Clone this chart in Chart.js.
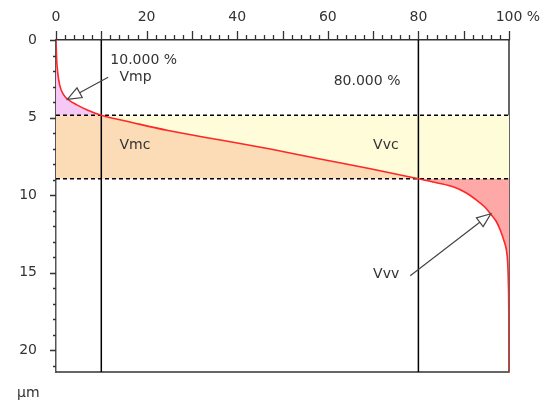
<!DOCTYPE html>
<html>
<head>
<meta charset="utf-8">
<script src="https://cdn.jsdelivr.net/npm/chart.js@4.4.0/dist/chart.umd.min.js"></script>
<style>
    html, body { margin: 0; padding: 0; background: #fff; }
    #wrap { width: 551px; height: 400px; }
</style>
</head>
<body>
<div id="wrap"><canvas id="afChart" width="551" height="400"></canvas></div>
<script>
// Abbott-Firestone curve: material ratio (%) against height (µm)
const ratioPct = [0, 0.13, 0.35, 0.8, 1.7, 2.8, 4.6, 6.9, 10, 17, 24.5, 36, 47.3, 58, 69.4, 80, 84, 87.8, 90.5, 92.9, 94.6, 95.9, 97.2, 98.1, 98.9, 99.4, 99.7, 99.85, 99.95, 100];
const heightUm = [0, 1.16, 2.02, 2.89, 3.54, 3.86, 4.18, 4.51, 4.85, 5.33, 5.82, 6.43, 7.03, 7.65, 8.3, 8.94, 9.2, 9.48, 9.85, 10.34, 10.75, 11.2, 11.7, 12.28, 12.95, 13.5, 14.3, 15.5, 17.5, 21.4];

// Mr1 / Mr2 and the matching heights
const ratioLevels = [10, 80];
const heightLevels = [4.85, 8.94];

const xTickLabels = ['0', '20', '40', '60', '80', '100'];
const yTickLabels = ['0', '5', '10', '15', '20'];
const yMax = 21.4;

const FONT = '14px "DejaVu Sans", Verdana, sans-serif';
const TEXT = '#333';

// helpers to cut the curve into pieces for the fills
const i1 = ratioPct.indexOf(ratioLevels[0]);
const i2 = ratioPct.indexOf(ratioLevels[1]);
const pts = (a, b) => ratioPct.slice(a, b + 1).map((x, k) => ({ x: x, y: heightUm[a + k] }));

function fillSet(data, value, color) {
    return {
        data: data, fill: { value: value }, backgroundColor: color,
        borderWidth: 0, pointRadius: 0, cubicInterpolationMode: 'monotone', order: 5
    };
}
function lineSet(data, dash) {
    return {
        data: data, fill: false, borderColor: '#000', borderWidth: 1.5,
        borderDash: dash || [], pointRadius: 0, order: 1
    };
}

const datasets = [
    {
        data: pts(0, ratioPct.length - 1), fill: false, borderColor: '#ff2626', borderWidth: 1.6,
        pointRadius: 0, cubicInterpolationMode: 'monotone', order: 0
    },
    lineSet([{ x: ratioLevels[0], y: 0 }, { x: ratioLevels[0], y: yMax }]),
    lineSet([{ x: ratioLevels[1], y: 0 }, { x: ratioLevels[1], y: yMax }]),
    lineSet([{ x: 0, y: heightLevels[0] }, { x: 100, y: heightLevels[0] }], [4, 3]),
    lineSet([{ x: 0, y: heightLevels[1] }, { x: 100, y: heightLevels[1] }], [4, 3]),
    // Vmp
    fillSet(pts(0, i1), heightLevels[0], '#f6c8f6'),
    // Vmc
    fillSet(pts(i1, i2), heightLevels[1], '#fbdcb6'),
    fillSet([{ x: 0, y: heightLevels[0] }, { x: ratioLevels[0], y: heightLevels[0] }], heightLevels[1], '#fbdcb6'),
    // Vvc
    fillSet(pts(i1, i2), heightLevels[0], '#fefcd9'),
    fillSet([{ x: ratioLevels[1], y: heightLevels[1] }, { x: 100, y: heightLevels[1] }], heightLevels[0], '#fefcd9'),
    // Vvv
    fillSet(pts(i2, ratioPct.length - 1), heightLevels[1], '#ffa8a8')
];

// text notes and arrows, in data units
const notes = [
    { text: '10.000 %', x: 12.0, y: 1.29 },
    { text: 'Vmp', x: 14.0, y: 2.4 },
    { text: '80.000 %', x: 61.3, y: 2.65 },
    { text: 'Vmc', x: 14.0, y: 6.79 },
    { text: 'Vvc', x: 70.0, y: 6.79 },
    { text: 'Vvv', x: 70.0, y: 15.1 }
];
const arrows = [
    { from: [11.5, 2.4], to: [2.5, 3.83] },
    { from: [78.2, 15.2], to: [96.0, 11.2] }
];

function drawArrow(ctx, x0, y0, x1, y1) {
    const ang = Math.atan2(y1 - y0, x1 - x0);
    const len = 14, half = 5.5;
    const bx = x1 - len * Math.cos(ang), by = y1 - len * Math.sin(ang);
    ctx.beginPath();
    ctx.moveTo(x0, y0);
    ctx.lineTo(bx, by);
    ctx.stroke();
    ctx.beginPath();
    ctx.moveTo(x1, y1);
    ctx.lineTo(bx + half * Math.sin(ang), by - half * Math.cos(ang));
    ctx.lineTo(bx - half * Math.sin(ang), by + half * Math.cos(ang));
    ctx.closePath();
    ctx.fillStyle = '#fff';
    ctx.fill();
    ctx.stroke();
}

const decor = {
    id: 'decor',
    beforeDatasetsDraw(chart) {
        const { ctx, chartArea: a } = chart;
        ctx.save();
        ctx.strokeStyle = '#333';
        ctx.lineWidth = 1.5;
        ctx.beginPath();
        ctx.moveTo(a.right, a.top);
        ctx.lineTo(a.right, a.bottom);
        ctx.lineTo(a.left, a.bottom);
        ctx.stroke();
        ctx.restore();
    },
    afterDatasetsDraw(chart) {
        const { ctx, scales: { x, y } } = chart;
        ctx.save();
        ctx.font = FONT;
        ctx.fillStyle = TEXT;
        ctx.textBaseline = 'middle';
        notes.forEach(n => ctx.fillText(n.text, x.getPixelForValue(n.x), y.getPixelForValue(n.y)));
        ctx.strokeStyle = '#444';
        ctx.lineWidth = 1.2;
        arrows.forEach(r => drawArrow(ctx,
            x.getPixelForValue(r.from[0]), y.getPixelForValue(r.from[1]),
            x.getPixelForValue(r.to[0]), y.getPixelForValue(r.to[1])));
        ctx.restore();
    },
    afterDraw(chart) {
        const { ctx, chartArea: a, scales: { x, y } } = chart;
        ctx.save();
        ctx.strokeStyle = '#333';
        ctx.lineWidth = 1.3;
        ctx.beginPath();
        for (let v = 0; v <= 100; v += 2) {
            const px = Math.round(x.getPixelForValue(v)) + 0.5;
            ctx.moveTo(px, a.top);
            ctx.lineTo(px, a.top - (v % 10 === 0 ? 9 : 5));
        }
        for (let v = 0; v <= 21; v += 1) {
            const py = Math.round(y.getPixelForValue(v)) + 0.5;
            ctx.moveTo(a.left, py);
            ctx.lineTo(a.left - (v % 5 === 0 ? 6 : 3), py);
        }
        ctx.stroke();
        // unit marks
        ctx.font = FONT;
        ctx.fillStyle = TEXT;
        ctx.textBaseline = 'middle';
        const w100 = ctx.measureText('100').width;
        ctx.fillText(' %', x.getPixelForValue(100) + w100 / 2, x.bottom - 14 - 8.4);
        ctx.fillText('µm', a.left - 39, a.bottom + 21);
        ctx.restore();
    }
};

new Chart(document.getElementById('afChart'), {
    type: 'line',
    data: { datasets: datasets },
    plugins: [decor],
    options: {
        responsive: false,
        animation: false,
        layout: { padding: { left: 0, top: 0, right: 42, bottom: 28 } },
        plugins: { legend: { display: false }, tooltip: { enabled: false } },
        scales: {
            x: {
                type: 'linear', position: 'top', min: 0, max: 100,
                grid: { display: false, drawTicks: false },
                border: { display: true, color: '#333', width: 1.5 },
                ticks: {
                    stepSize: 20, padding: 14, color: TEXT,
                    font: { family: '"DejaVu Sans"', size: 14 },
                    maxRotation: 0, autoSkip: false,
                    callback: (v) => xTickLabels[v / 20] ?? ''
                },
                afterFit: (s) => { s.height = 40; }
            },
            y: {
                type: 'linear', reverse: true, min: 0, max: yMax,
                grid: { display: false, drawTicks: false },
                border: { display: true, color: '#555', width: 1.5 },
                ticks: {
                    stepSize: 5, padding: 19, color: TEXT, includeBounds: false,
                    font: { family: '"DejaVu Sans"', size: 14 },
                    autoSkip: false,
                    callback: (v) => yTickLabels[v / 5] ?? ''
                },
                afterFit: (s) => { s.width = 56; }
            }
        }
    }
});
</script>
</body>
</html>
